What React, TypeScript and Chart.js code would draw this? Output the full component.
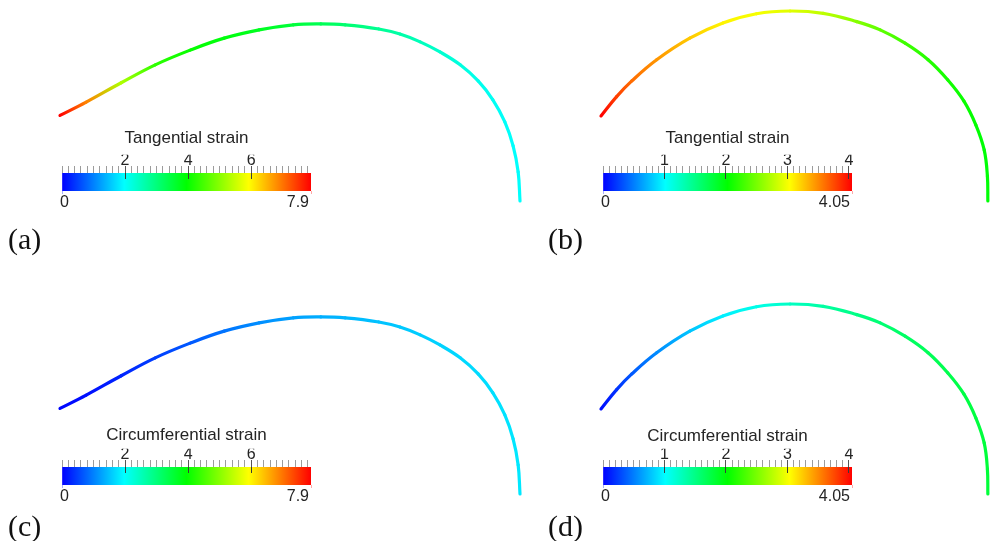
import React, { useEffect, useRef } from 'react';
import { Chart, registerables } from 'chart.js';

Chart.register(...registerables);

const SANS = "'Liberation Sans', Arial, sans-serif";
const SERIF = "'Liberation Serif', 'Times New Roman', serif";
const TEXT = '#242424';

// ---------- data ----------
// Deformed profile used in panels (a) and (c): radial position r and height z
const profile1R = [0.000, 0.057, 0.133, 0.207, 0.283, 0.357, 0.433, 0.507, 0.567, 0.620, 0.693, 0.739, 0.783, 0.826, 0.870, 0.909, 0.941, 0.967, 0.985, 0.996, 1.000];
const profile1Z = [0.186, 0.215, 0.257, 0.296, 0.328, 0.354, 0.372, 0.383, 0.385, 0.383, 0.374, 0.363, 0.346, 0.324, 0.296, 0.261, 0.220, 0.172, 0.120, 0.063, 0.000];
// Deformed profile used in panels (b) and (d)
const profile2R = [0.000, 0.034, 0.067, 0.121, 0.193, 0.265, 0.338, 0.411, 0.483, 0.556, 0.607, 0.661, 0.711, 0.754, 0.789, 0.815, 0.833, 0.840, 0.841];
const profile2Z = [0.185, 0.227, 0.261, 0.307, 0.354, 0.387, 0.407, 0.413, 0.408, 0.390, 0.372, 0.343, 0.307, 0.263, 0.217, 0.165, 0.111, 0.054, 0.000];

// Strain along the profiles
const tangential1 = [7.9, 6.9, 5.3, 4.3, 4.0, 3.85, 3.7, 3.5, 3.3, 3.1, 2.8, 2.65, 2.5, 2.35, 2.22, 2.12, 2.06, 2.02, 2.0, 2.0, 2.0];
const circumferential1 = [0.05, 0.12, 0.28, 0.48, 0.68, 0.9, 1.1, 1.25, 1.35, 1.42, 1.5, 1.55, 1.59, 1.63, 1.67, 1.7, 1.73, 1.76, 1.78, 1.8, 1.8];
const tangential2 = [4.05, 3.8, 3.62, 3.46, 3.25, 3.08, 3.0, 2.92, 2.78, 2.55, 2.4, 2.27, 2.17, 2.1, 2.06, 2.03, 2.0, 2.0, 2.0];
const circumferential2 = [0.05, 0.2, 0.35, 0.55, 0.78, 0.95, 1.1, 1.25, 1.38, 1.5, 1.57, 1.63, 1.68, 1.72, 1.75, 1.77, 1.79, 1.8, 1.8];

// Colour bars
const range1Max = 7.9;
const range1Step = 0.2;
const range1Labels = [2, 4, 6];
const range2Max = 4.05;
const range2Step = 0.1;
const range2Labels = [1, 2, 3, 4];
const barTitles = ['Tangential strain', 'Circumferential strain'];
const panelLabels = ['(a)', '(b)', '(c)', '(d)'];

// ---------- helpers ----------
function rainbow(t: number): string {
  const tt = Math.max(0, Math.min(1, t));
  const hp = ((1 - tt) * 240) / 60;
  const x = 1 - Math.abs((hp % 2) - 1);
  let r = 0, g = 0, b = 0;
  if (hp < 1) { r = 1; g = x; b = 0; }
  else if (hp < 2) { r = x; g = 1; b = 0; }
  else if (hp < 3) { r = 0; g = 1; b = x; }
  else { r = 0; g = x; b = 1; }
  return `rgb(${Math.round(r * 255)},${Math.round(g * 255)},${Math.round(b * 255)})`;
}

const PX_PER_UNIT = 460;

type CurveProps = {
  left: number; top: number; width: number; height: number;
  originX: number; originY: number;
  r: number[]; z: number[]; s: number[]; smax: number;
};

function CurvePanel({ left, top, width, height, originX, originY, r, z, s, smax }: CurveProps) {
  const ref = useRef<HTMLCanvasElement | null>(null);
  useEffect(() => {
    const xMin = -originX / PX_PER_UNIT;
    const xMax = (width - originX) / PX_PER_UNIT;
    const yMax = originY / PX_PER_UNIT;
    const yMin = -(height - originY) / PX_PER_UNIT;
    const chart = new Chart(ref.current as HTMLCanvasElement, {
      type: 'line',
      data: {
        datasets: [
          {
            data: r.map((v, i) => ({ x: v, y: z[i] })),
            borderWidth: 3.2,
            pointRadius: 0,
            tension: 0.4,
            borderCapStyle: 'round',
            borderJoinStyle: 'round',
            fill: false,
            clip: false,
            segment: {
              borderColor: (c: any) => {
                const p0 = c.p0, p1 = c.p1;
                const g = c.chart.ctx.createLinearGradient(p0.x, p0.y, p1.x, p1.y);
                g.addColorStop(0, rainbow(s[c.p0DataIndex] / smax));
                g.addColorStop(1, rainbow(s[c.p1DataIndex] / smax));
                return g;
              },
              borderDashOffset: (c: any) => c.p0DataIndex * 0.001,
            },
          } as any,
        ],
      },
      options: {
        animation: false,
        responsive: false,
        events: [],
        layout: { padding: 0 },
        plugins: { legend: { display: false }, tooltip: { enabled: false } },
        scales: {
          x: { type: 'linear', display: false, min: xMin, max: xMax },
          y: { type: 'linear', display: false, min: yMin, max: yMax },
        },
      },
    });
    return () => chart.destroy();
  }, []);
  return (
    <canvas
      ref={ref}
      width={width}
      height={height}
      style={{ position: 'absolute', left, top, width, height }}
    />
  );
}

type BarProps = {
  barLeft: number; barRight: number; barTop: number; barBottom: number;
  titleCenter: number; title: string; max: number; step: number; labels: number[];
};

function ColorBar({ barLeft, barRight, barTop, barBottom, titleCenter, title, max, step, labels }: BarProps) {
  const ref = useRef<HTMLCanvasElement | null>(null);
  const canvasLeft = barLeft - 40;
  const canvasRight = barRight + 50;
  const width = canvasRight - canvasLeft;
  const titleSize = 17, tickSize = 16;
  const titleLH = titleSize * 1.2, tickLH = tickSize * 1.2;
  const topTick = 7, topPad = -4, botTick = 3, botPad = -1;
  const topAxisH = topTick + topPad + tickLH;
  const botAxisH = botTick + botPad + tickLH;
  const titleTop = titleCenter - titleLH / 2;
  const canvasTop = Math.floor(titleTop - 4);
  const padTop = titleTop - canvasTop;
  const titleGap = barTop - topAxisH - (titleTop + titleLH);
  const height = Math.ceil(barBottom + botAxisH + 4 - canvasTop);
  const padBottom = canvasTop + height - barBottom - botAxisH;

  useEffect(() => {
    const isMajor = (v: number) => labels.some((m) => Math.abs(m - v) < 1e-6);
    const minor: number[] = [];
    for (let k = 0; k * step <= max + 1e-9; k++) minor.push(+(k * step).toFixed(4));

    const chart = new Chart(ref.current as HTMLCanvasElement, {
      type: 'bar',
      data: {
        labels: [''],
        datasets: [
          {
            data: [[0, max]] as any,
            borderWidth: 0,
            barPercentage: 1,
            categoryPercentage: 1,
            backgroundColor: (c: any) => {
              const chartObj = c.chart;
              const xs = chartObj.scales.x;
              if (!xs || !chartObj.chartArea) return 'rgba(0,0,0,0)';
              const x0 = xs.getPixelForValue(0);
              const x1 = xs.getPixelForValue(max);
              const g = chartObj.ctx.createLinearGradient(x0, 0, x1, 0);
              g.addColorStop(0, rainbow(0));
              g.addColorStop(0.25, rainbow(0.25));
              g.addColorStop(0.5, rainbow(0.5));
              g.addColorStop(0.75, rainbow(0.75));
              g.addColorStop(1, rainbow(1));
              return g;
            },
          },
        ],
      },
      options: {
        indexAxis: 'y',
        animation: false,
        responsive: false,
        events: [],
        layout: {
          padding: {
            left: barLeft - canvasLeft,
            right: canvasRight - barRight,
            top: padTop,
            bottom: padBottom,
          },
        },
        plugins: {
          legend: { display: false },
          tooltip: { enabled: false },
          title: {
            display: true,
            text: title,
            fullSize: false,
            align: 'center',
            color: TEXT,
            font: { family: SANS, size: titleSize, weight: 'normal' as any },
            padding: { top: 0, bottom: titleGap },
          },
        },
        scales: {
          y: { display: false },
          x: {
            type: 'linear',
            position: 'top',
            min: 0,
            max,
            afterBuildTicks: (sc: any) => {
              sc.ticks = minor.map((v) => ({ value: v }));
            },
            ticks: {
              autoSkip: false,
              maxRotation: 0,
              minRotation: 0,
              padding: topPad,
              color: TEXT,
              font: { family: SANS, size: tickSize },
              callback: (v: any) => (isMajor(Number(v)) ? String(Number(v)) : ''),
            },
            grid: {
              z: 1,
              drawTicks: true,
              drawOnChartArea: true,
              tickLength: topTick,
              lineWidth: 1,
              color: (c: any) => (c.tick && isMajor(c.tick.value) ? '#3a3a3a' : 'rgba(0,0,0,0)'),
              tickColor: (c: any) => (c.tick && isMajor(c.tick.value) ? '#555555' : '#9c9c9c'),
              tickBorderDash: [],
            } as any,
            border: { display: false, dash: [6, 200] },
          },
          x2: {
            type: 'linear',
            position: 'bottom',
            min: 0,
            max,
            afterBuildTicks: (sc: any) => {
              sc.ticks = [{ value: 0 }, { value: max }];
            },
            ticks: {
              autoSkip: false,
              maxRotation: 0,
              minRotation: 0,
              align: 'inner',
              labelOffset: -2,
              padding: botPad,
              color: TEXT,
              font: { family: SANS, size: tickSize },
              callback: (v: any) => String(Number(v)),
            },
            grid: {
              drawOnChartArea: false,
              drawTicks: true,
              tickLength: botTick,
              color: 'rgba(0,0,0,0)',
              tickColor: (c: any) => (c.index === 0 ? '#a8b0ff' : '#ffa8a8'),
            },
            border: { display: false },
          },
        },
      } as any,
    });
    return () => chart.destroy();
  }, []);

  return (
    <canvas
      ref={ref}
      width={width}
      height={height}
      style={{ position: 'absolute', left: canvasLeft, top: canvasTop, width, height }}
    />
  );
}

function PanelLabel({ text, left, baseline }: { text: string; left: number; baseline: number }) {
  const size = 30;
  return (
    <div
      style={{
        position: 'absolute',
        left,
        top: baseline - size * 0.8375,
        fontFamily: SERIF,
        fontSize: size,
        lineHeight: `${size}px`,
        color: '#111',
        whiteSpace: 'nowrap',
      }}
    >
      {text}
    </div>
  );
}

export default function App() {
  return (
    <div
      style={{
        position: 'fixed',
        left: 0,
        top: 0,
        width: 990,
        height: 541,
        background: '#ffffff',
        overflow: 'hidden',
      }}
    >
      <CurvePanel left={0} top={0} width={540} height={250} originX={60} originY={201}
        r={profile1R} z={profile1Z} s={tangential1} smax={range1Max} />
      <CurvePanel left={540} top={0} width={450} height={250} originX={61} originY={201}
        r={profile2R} z={profile2Z} s={tangential2} smax={range2Max} />
      <CurvePanel left={0} top={293} width={540} height={248} originX={60} originY={201}
        r={profile1R} z={profile1Z} s={circumferential1} smax={range1Max} />
      <CurvePanel left={540} top={293} width={450} height={248} originX={61} originY={201}
        r={profile2R} z={profile2Z} s={circumferential2} smax={range2Max} />

      <ColorBar barLeft={62} barRight={311} barTop={177} barBottom={190} titleCenter={138}
        title={barTitles[0]} max={range1Max} step={range1Step} labels={range1Labels} />
      <ColorBar barLeft={603} barRight={852} barTop={177} barBottom={190} titleCenter={138}
        title={barTitles[0]} max={range2Max} step={range2Step} labels={range2Labels} />
      <ColorBar barLeft={62} barRight={311} barTop={471} barBottom={484} titleCenter={435.5}
        title={barTitles[1]} max={range1Max} step={range1Step} labels={range1Labels} />
      <ColorBar barLeft={603} barRight={852} barTop={471} barBottom={484} titleCenter={436}
        title={barTitles[1]} max={range2Max} step={range2Step} labels={range2Labels} />

      <PanelLabel text={panelLabels[0]} left={8} baseline={249.5} />
      <PanelLabel text={panelLabels[1]} left={548} baseline={249.5} />
      <PanelLabel text={panelLabels[2]} left={8} baseline={536.5} />
      <PanelLabel text={panelLabels[3]} left={548} baseline={536.5} />
    </div>
  );
}
